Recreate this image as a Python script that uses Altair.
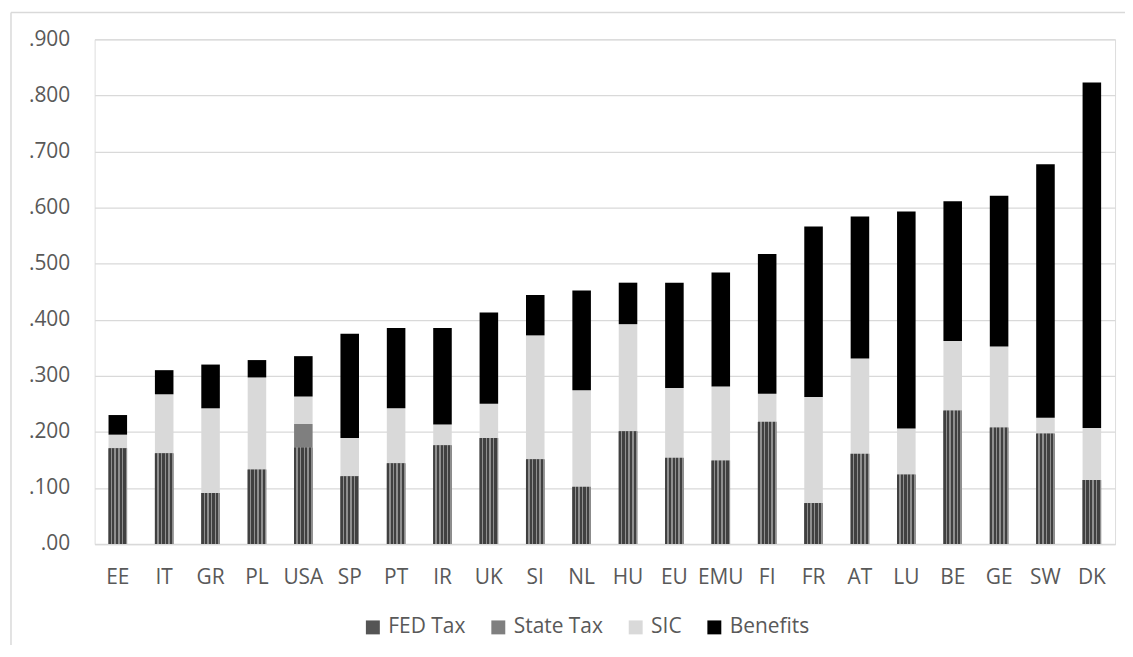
import altair as alt
import pandas as pd

countries = ["EE", "IT", "GR", "PL", "USA", "SP", "PT", "IR", "UK", "SI", "NL",
             "HU", "EU", "EMU", "FI", "FR", "AT", "LU", "BE", "GE", "SW", "DK"]
fed_tax = [0.171, 0.162, 0.091, 0.133, 0.172, 0.121, 0.144, 0.176, 0.189, 0.151, 0.102,
           0.201, 0.154, 0.149, 0.218, 0.073, 0.161, 0.124, 0.238, 0.208, 0.197, 0.114]
state_tax = [0, 0, 0, 0, 0.042, 0, 0, 0, 0, 0, 0,
             0, 0, 0, 0, 0, 0, 0, 0, 0, 0, 0]
sic = [0.024, 0.105, 0.151, 0.164, 0.049, 0.068, 0.098, 0.037, 0.061, 0.221, 0.172,
       0.191, 0.124, 0.132, 0.050, 0.189, 0.170, 0.082, 0.124, 0.144, 0.028, 0.093]
benefits = [0.035, 0.043, 0.078, 0.031, 0.072, 0.186, 0.143, 0.172, 0.163, 0.072, 0.178,
            0.074, 0.188, 0.203, 0.249, 0.304, 0.253, 0.387, 0.249, 0.269, 0.452, 0.616]
components = ["FED Tax", "State Tax", "SIC", "Benefits"]
colors = ["#555555", "#7f7f7f", "#d9d9d9", "#000000"]
y_ticks = [0, 0.1, 0.2, 0.3, 0.4, 0.5, 0.6, 0.7, 0.8, 0.9]

rows = []
for i, c in enumerate(countries):
    for k, (name, vals) in enumerate(zip(components, [fed_tax, state_tax, sic, benefits])):
        rows.append({"country": c, "component": name, "value": vals[i], "ord": k})
df = pd.DataFrame(rows)

FONT = "Open Sans"
TXT = "#595959"
GRID = "#d9d9d9"

x_enc = alt.X("country:N", sort=countries,
              scale=alt.Scale(paddingInner=0.6, paddingOuter=0.3),
              axis=alt.Axis(title=None, labelAngle=0, ticks=False, labelPadding=23,
                            labelFontSize=21, labelFont=FONT, labelColor=TXT,
                            domainColor=GRID, domainWidth=1.5, grid=False))

bars = alt.Chart(df).mark_bar().encode(
    x=x_enc,
    y=alt.Y("value:Q", stack="zero", scale=alt.Scale(domain=[0, 0.9], nice=False),
            axis=alt.Axis(title=None, values=y_ticks, domain=False, ticks=False,
                          labelPadding=25, labelFontSize=21, labelFont=FONT, labelColor=TXT,
                          gridColor=GRID, gridWidth=1.3,
                          labelExpr="datum.value == 0 ? '.00' : replace(format(datum.value, '.3f'), '0.', '.')")),
    color=alt.Color("component:N", scale=alt.Scale(domain=components, range=colors),
                    legend=alt.Legend(title=None, orient="none", direction="horizontal",
                                      legendX=269, legendY=580, padding=0,
                                      symbolType="square", symbolSize=196, symbolStrokeWidth=0,
                                      labelFontSize=21, labelFont=FONT, labelColor=TXT,
                                      labelOffset=5, columnPadding=22)),
    order=alt.Order("ord:Q", sort="ascending"),
)

stops = []
n = 5
for j in range(n):
    a = j / n
    b = (j + 0.6) / n
    e = (j + 1) / n
    stops += [alt.GradientStop(color="#404040", offset=a),
              alt.GradientStop(color="#404040", offset=b),
              alt.GradientStop(color="#8f8f8f", offset=b),
              alt.GradientStop(color="#8f8f8f", offset=e)]
pattern = alt.LinearGradient(gradient="linear", stops=stops, x1=0, x2=1, y1=0, y2=0)

fed_layer = alt.Chart(df).transform_filter("datum.component == 'FED Tax'").mark_bar(
    color=pattern).encode(
    x=alt.X("country:N", sort=countries),
    y=alt.Y("value:Q"),
)

frame_df = pd.DataFrame({"k": [0]})
left_line = alt.Chart(frame_df).mark_rule(color=GRID, strokeWidth=1.5).encode(
    x=alt.value(-84), y=alt.value(-27), y2=alt.value(700))
top_line = alt.Chart(frame_df).mark_rule(color=GRID, strokeWidth=1.5).encode(
    x=alt.value(-84), x2=alt.value(1100), y=alt.value(-27))

chart = alt.layer(bars, fed_layer, left_line, top_line).properties(
    width=1025, height=507,
    padding={"left": 87, "top": 30, "right": 10, "bottom": 100},
    autosize=alt.AutoSizeParams(type="none"),
).configure_view(stroke=None).configure(font=FONT)

chart.save("out.html", embed_options={"renderer": "svg", "actions": False})
